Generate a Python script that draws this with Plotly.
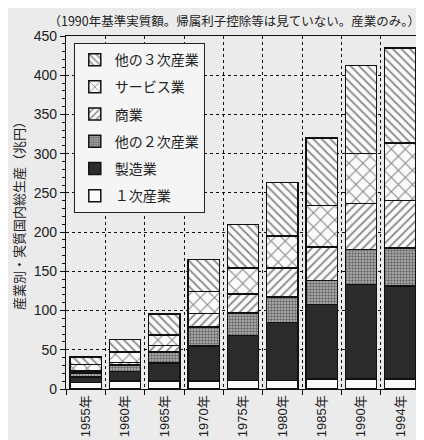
import plotly.graph_objects as go

years = ["1955年", "1960年", "1965年", "1970年", "1975年", "1980年", "1985年", "1990年", "1994年"]

# 兆円 (1990年基準実質額)
primary = [8.5, 10, 10, 10, 11, 11, 13, 13, 13]
manufacturing = [7, 12, 23, 45, 57, 74, 95, 120.5, 118.5]
other_secondary = [5, 8.5, 14, 24, 29, 32.5, 30.5, 44.5, 48]
commerce = [2.5, 3.5, 8.5, 17.5, 24, 36.5, 42.5, 58.5, 61]
services = [8, 13, 13.5, 28, 33, 41, 53, 63.5, 73]
other_tertiary = [10, 16, 26.5, 40.5, 56, 68, 86, 112.5, 121]

names = ["１次産業", "製造業", "他の２次産業", "商業", "サービス業", "他の３次産業"]
series = [primary, manufacturing, other_secondary, commerce, services, other_tertiary]

fills = ["#fafafa", "#2b2b2b", "#999999", "#fafafa", "#fafafa", "#fafafa"]
patterns = [
    dict(shape=""),
    dict(shape=""),
    dict(shape=".", fgcolor="#1a1a1a", bgcolor="#b5b5b5", size=3, solidity=0.5),
    dict(shape="/", fgcolor="#111111", bgcolor="#fafafa", size=6, solidity=0.3),
    dict(shape="x", fgcolor="#111111", bgcolor="#fafafa", size=10, solidity=0.2),
    dict(shape="\\", fgcolor="#111111", bgcolor="#fafafa", size=6, solidity=0.3),
]

x = list(range(len(years)))

fig = go.Figure()
for i, (name, vals) in enumerate(zip(names, series)):
    fig.add_trace(go.Bar(
        x=x, y=vals, name=name, legendgroup=name, legendrank=len(names) - i,
        marker=dict(color=fills[i], pattern=patterns[i],
                    line=dict(color="#111111", width=1.5)),
    ))

jp = "Noto Sans CJK JP"
fig.update_layout(
    width=424, height=440,
    barmode="stack", bargap=0.2,
    paper_bgcolor="#ebebeb", plot_bgcolor="#ebebeb",
    margin=dict(l=57, r=11, t=28, b=57),
    font=dict(family="Liberation Sans, " + jp, size=13, color="#222222"),
    title=dict(text="（1990年基準実質額。帰属利子控除等は見ていない。産業のみ。）",
               x=1, xref="paper", xanchor="right",
               y=0.97, yref="container", yanchor="middle",
               font=dict(family=jp, size=12.5, color="#222222")),
    legend=dict(x=0.022, y=0.98, xanchor="left", yanchor="top",
                traceorder="grouped", tracegroupgap=6,
                bgcolor="#f5f5f5", bordercolor="#222222", borderwidth=1,
                font=dict(family=jp, size=14, color="#222222")),
    showlegend=True,
)
fig.update_xaxes(
    range=[-0.5, len(years) - 0.5],
    tickvals=x, ticktext=years, tickangle=-90, ticks="",
    tickfont=dict(family="Liberation Sans, " + jp, size=13),
    showgrid=False, zeroline=False,
    showline=True, linecolor="#111111", linewidth=1.2, mirror=True,
    minor=dict(tick0=0.5, dtick=1, ticks="outside", ticklen=5, tickcolor="#111111",
               showgrid=True, gridcolor="#111111", gridwidth=1, griddash="3px,3px"),
)
fig.update_yaxes(
    range=[0, 450], dtick=50, ticks="outside", ticklen=5, tickcolor="#111111",
    tickfont=dict(size=14),
    showgrid=True, gridcolor="#111111", gridwidth=1, griddash="3px,3px",
    zeroline=False,
    showline=True, linecolor="#111111", linewidth=1.2, mirror=True,
    minor=dict(dtick=10, ticks="outside", ticklen=3, tickcolor="#111111", showgrid=False),
    title=dict(text="産業別・実質国内総生産（兆円）", standoff=6,
               font=dict(family=jp, size=13)),
)

fig.write_html("out.html")
